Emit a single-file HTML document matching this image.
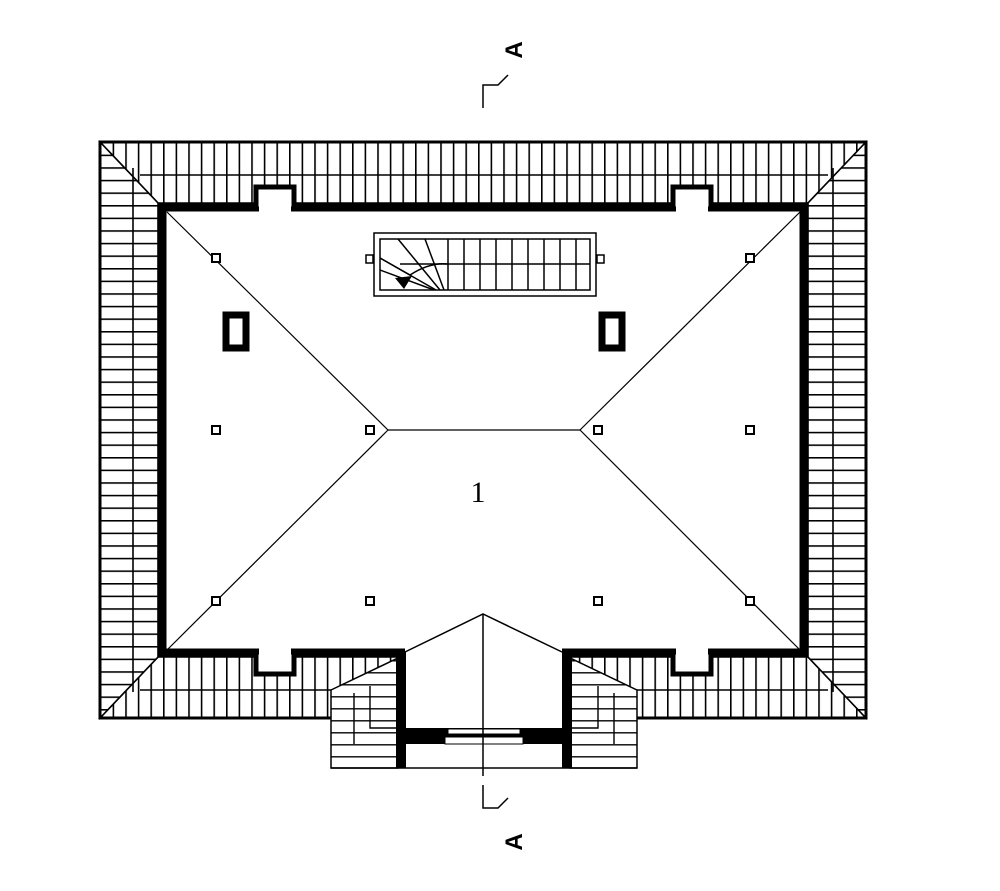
<!DOCTYPE html>
<html><head><style>html,body{margin:0;padding:0;background:#fff;}svg{display:block}</style></head>
<body>
<svg width="1000" height="891" viewBox="0 0 1000 891" xmlns="http://www.w3.org/2000/svg">
<defs>
<pattern id="v" width="12.6" height="20" patternUnits="userSpaceOnUse" x="100"><rect width="12.6" height="20" fill="#fff"/><line x1="0.8" y1="0" x2="0.8" y2="20" stroke="#000" stroke-width="1.6"/></pattern>
<pattern id="h" width="20" height="12.6" patternUnits="userSpaceOnUse" y="142"><rect width="20" height="12.6" fill="#fff"/><line x1="0" y1="0.8" x2="20" y2="0.8" stroke="#000" stroke-width="1.6"/></pattern>
<pattern id="h2" width="20" height="12" patternUnits="userSpaceOnUse" y="684"><rect width="20" height="12" fill="#fff"/><line x1="0" y1="0.8" x2="20" y2="0.8" stroke="#000" stroke-width="1.4"/></pattern>
</defs>
<g stroke="#000" stroke-width="1.6">
<polygon points="100,142 866,142 808,203 158,203" fill="url(#v)"/>
<polygon points="100,718 158,657 808,657 866,718" fill="url(#v)"/>
<polygon points="100,142 158,203 158,657 100,718" fill="url(#h)"/>
<polygon points="866,142 808,203 808,657 866,718" fill="url(#h)"/>
<line x1="140" y1="175" x2="828" y2="175"/>
<line x1="140" y1="690" x2="828" y2="690"/>
<line x1="133" y1="168" x2="133" y2="692"/>
<line x1="833" y1="168" x2="833" y2="692"/>
</g>
<rect x="100" y="142" width="766" height="576" fill="none" stroke="#000" stroke-width="3"/>
<!-- room -->
<rect x="158" y="203" width="650" height="454" fill="#fff"/>
<rect x="162" y="207" width="642" height="446" fill="none" stroke="#000" stroke-width="9"/>
<!-- dormers -->
<g fill="#fff" stroke="#000" stroke-width="5">
<rect x="256" y="187" width="38" height="22"/><rect x="673" y="187" width="38" height="22"/>
<rect x="256" y="652" width="38" height="22"/><rect x="673" y="652" width="38" height="22"/>
</g>
<rect x="259" y="203" width="32" height="10" fill="#fff"/><rect x="676" y="203" width="32" height="10" fill="#fff"/>
<rect x="259" y="648" width="32" height="10" fill="#fff"/><rect x="676" y="648" width="32" height="10" fill="#fff"/>
<!-- hips -->
<g stroke="#000" stroke-width="1.2">
<line x1="167" y1="212" x2="388" y2="430"/><line x1="800" y1="212" x2="580" y2="430"/>
<line x1="167" y1="650" x2="388" y2="430"/><line x1="800" y1="650" x2="580" y2="430"/>
<line x1="388" y1="430" x2="580" y2="430"/>
</g>
<!-- chimneys -->
<rect x="226" y="315" width="20" height="33" fill="#fff" stroke="#000" stroke-width="7"/>
<rect x="602" y="315" width="20" height="33" fill="#fff" stroke="#000" stroke-width="7"/>
<!-- posts -->
<g fill="#fff" stroke="#000" stroke-width="2">
<rect x="212" y="254" width="8" height="8"/><rect x="746" y="254" width="8" height="8"/>
<rect x="212" y="426" width="8" height="8"/><rect x="366" y="426" width="8" height="8"/><rect x="594" y="426" width="8" height="8"/><rect x="746" y="426" width="8" height="8"/>
<rect x="212" y="597" width="8" height="8"/><rect x="366" y="597" width="8" height="8"/><rect x="594" y="597" width="8" height="8"/><rect x="746" y="597" width="8" height="8"/>
</g>
<!-- stair -->
<g stroke="#000" fill="none" stroke-width="1.5">
<rect x="374" y="233" width="222" height="63"/>
<rect x="380" y="239" width="210" height="51"/>
<line x1="400" y1="264" x2="590" y2="264"/>
<line x1="448" y1="239" x2="448" y2="290"/><line x1="464" y1="239" x2="464" y2="290"/><line x1="480" y1="239" x2="480" y2="290"/><line x1="496" y1="239" x2="496" y2="290"/><line x1="512" y1="239" x2="512" y2="290"/><line x1="528" y1="239" x2="528" y2="290"/><line x1="544" y1="239" x2="544" y2="290"/><line x1="560" y1="239" x2="560" y2="290"/><line x1="576" y1="239" x2="576" y2="290"/>
<line x1="398" y1="239" x2="440" y2="290"/><line x1="425" y1="239" x2="444" y2="290"/><line x1="380" y1="258" x2="436" y2="290"/>
<line x1="380" y1="270" x2="434" y2="290"/>
<path d="M380 258 L410 275 Q430 262 448 264"/>
</g>
<polygon points="395,278 412,276 404,289" fill="#000"/>
<g fill="#fff" stroke="#000" stroke-width="1.5"><rect x="366" y="255" width="7" height="8"/><rect x="597" y="255" width="7" height="8"/></g>
<!-- porch side extensions -->
<g stroke="#000" stroke-width="1.5">
<polygon points="331,690 398,658 398,768 331,768" fill="url(#h2)"/>
<polygon points="637,690 570,658 570,768 637,768" fill="url(#h2)"/>
</g>
<g stroke="#000" stroke-width="1.4" fill="none">
<path d="M370 686 V728 H398"/><line x1="354" y1="693" x2="354" y2="744"/>
<path d="M598 686 V728 H570"/><line x1="614" y1="693" x2="614" y2="744"/>
</g>
<!-- porch interior -->
<rect x="405" y="646" width="157" height="122" fill="#fff"/>
<rect x="396" y="652" width="10" height="116" fill="#000"/>
<rect x="562" y="652" width="10" height="116" fill="#000"/>
<rect x="406" y="728" width="156" height="16" fill="#000"/>
<rect x="448" y="729" width="72" height="5" fill="#fff" stroke="#000"/>
<rect x="445" y="737" width="78" height="7" fill="#fff" stroke="#000"/>
<g stroke="#000" stroke-width="1.5" fill="none">
<polyline points="405,652 483,614 562,652"/>
<line x1="331" y1="768" x2="637" y2="768"/>
<line x1="483" y1="614" x2="483" y2="776"/>
</g>
<!-- section marks -->
<g stroke="#000" stroke-width="1.5" fill="none">
<polyline points="483,108 483,85 498,85 508,75"/>
<polyline points="483,785 483,808 498,808 508,798"/>
</g>
<text x="0" y="0" transform="translate(522,50) rotate(-90)" font-family="Liberation Sans, sans-serif" font-weight="bold" font-size="24" text-anchor="middle">A</text>
<text x="0" y="0" transform="translate(522,842) rotate(-90)" font-family="Liberation Sans, sans-serif" font-weight="bold" font-size="24" text-anchor="middle">A</text>
<text x="478" y="502" font-family="Liberation Serif, serif" font-size="30" text-anchor="middle">1</text>
</svg>
</body></html>
